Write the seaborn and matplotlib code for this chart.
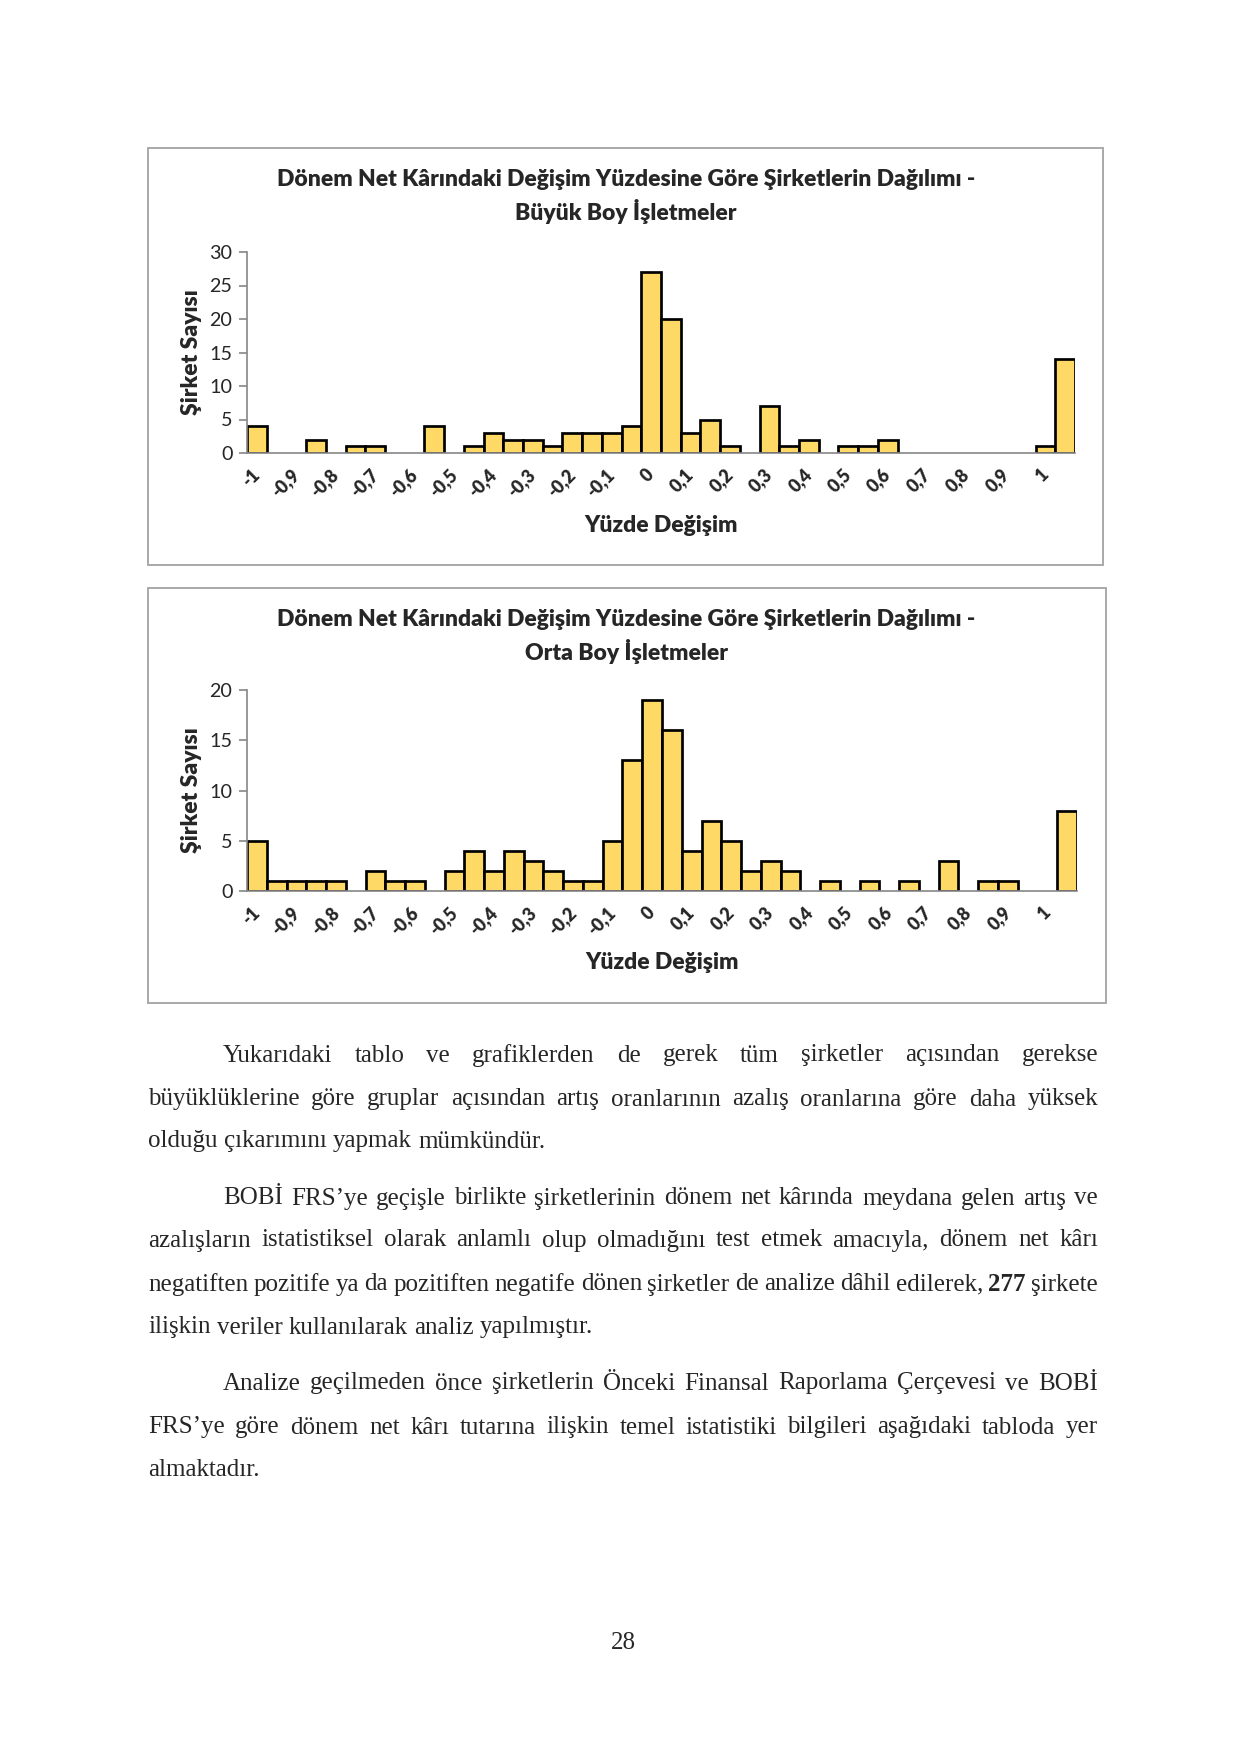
import matplotlib
matplotlib.use("Agg")
import matplotlib.pyplot as plt
import seaborn as sns
import pandas as pd
from matplotlib.patches import Rectangle

# data (42 bins, label every second bin)
tick_labels = ["-1", "-0,9", "-0,8", "-0,7", "-0,6", "-0,5", "-0,4", "-0,3", "-0,2", "-0,1",
               "0", "0,1", "0,2", "0,3", "0,4", "0,5", "0,6", "0,7", "0,8", "0,9", "1"]
buyuk_counts = [4, 0, 0, 2, 0, 1, 1, 0, 0, 4,
                0, 1, 3, 2, 2, 1, 3, 3, 3, 4,
                27, 20, 3, 5, 1, 0, 7, 1, 2, 0,
                1, 1, 2, 0, 0, 0, 0, 0, 0, 0,
                1, 14]
orta_counts = [5, 1, 1, 1, 1, 0, 2, 1, 1, 0,
               2, 4, 2, 4, 3, 2, 1, 1, 5, 13,
               19, 16, 4, 7, 5, 2, 3, 2, 0, 1,
               0, 1, 0, 1, 0, 3, 0, 1, 1, 0,
               0, 8]

title_main = "Dönem Net Kârındaki Değişim Yüzdesine Göre Şirketlerin Dağılımı -"
title_buyuk = "Büyük Boy İşletmeler"
title_orta = "Orta Boy İşletmeler"
xlab = "Yüzde Değişim"
ylab = "Şirket Sayısı"

paragraphs = [
    ["Yukarıdaki tablo ve grafiklerden de gerek tüm şirketler açısından gerekse",
     "büyüklüklerine göre gruplar açısından artış oranlarının azalış oranlarına göre daha yüksek",
     "olduğu çıkarımını yapmak mümkündür."],
    ["BOBİ FRS’ye geçişle birlikte şirketlerinin dönem net kârında meydana gelen artış ve",
     "azalışların istatistiksel olarak anlamlı olup olmadığını test etmek amacıyla, dönem net kârı",
     "negatiften pozitife ya da pozitiften negatife dönen şirketler de analize dâhil edilerek, **277** şirkete",
     "ilişkin veriler kullanılarak analiz yapılmıştır."],
    ["Analize geçilmeden önce şirketlerin Önceki Finansal Raporlama Çerçevesi ve BOBİ",
     "FRS’ye göre dönem net kârı tutarına ilişkin temel istatistiki bilgileri aşağıdaki tabloda yer",
     "almaktadır."],
]
line_y = [[1053, 1097, 1139], [1196, 1238, 1282, 1325], [1381, 1425, 1468]]

W, H = 1240, 1754
sns.set_theme(style="white")
plt.rcParams['font.family'] = ['Lato', 'DejaVu Sans']
SERIF = ['Liberation Serif', 'DejaVu Serif']

fig = plt.figure(figsize=(W / 150, H / 150), dpi=150)
fig.patch.set_facecolor("white")


def fx(px):
    return px / W


def fy(py):
    return 1 - py / H


def draw_chart(counts, subtitle, box, axbox, title_y, ymax, ystep, xlab_y):
    bx0, by0, bx1, by1 = box
    fig.patches.append(Rectangle((fx(bx0), fy(by1)), fx(bx1 - bx0), (by1 - by0) / H,
                                 transform=fig.transFigure, fill=False,
                                 edgecolor="#a6a6a6", linewidth=0.9))
    ax0, ay0, ax1, ay1 = axbox
    ax = fig.add_axes([fx(ax0), fy(ay1), fx(ax1 - ax0), (ay1 - ay0) / H])
    df = pd.DataFrame({"bin": range(len(counts)), "n": counts})
    sns.barplot(data=df, x="bin", y="n", ax=ax, color="#FFD966", saturation=1,
                edgecolor="black", linewidth=1.3, width=1.0)
    for p in ax.patches:
        if p.get_height() == 0:
            p.set_visible(False)
    ax.set_xlim(-0.5, len(counts) - 0.5)
    ax.set_ylim(0, ymax)
    ax.set_yticks(range(0, ymax + 1, ystep))
    ax.set_xticks(range(0, len(counts), 2))
    ax.set_xticklabels(tick_labels, rotation=45, ha="right", va="center",
                       rotation_mode="anchor", fontweight="heavy", fontsize=8.5)
    ax.tick_params(axis="x", length=0, pad=9)
    ax.tick_params(axis="y", length=4, color="#868686", width=0.8, labelsize=9.5,
                   pad=3, left=True, direction="out")
    ax.set_xlabel("")
    ax.set_ylabel("")
    for s in ["top", "right"]:
        ax.spines[s].set_visible(False)
    for s in ["left", "bottom"]:
        ax.spines[s].set_color("#868686")
        ax.spines[s].set_linewidth(0.8)
    ax.set_facecolor("none")
    fig.text(fx(626), fy(title_y[0]), title_main, ha="center", va="center",
             fontsize=11, fontweight="heavy")
    fig.text(fx(626), fy(title_y[1]), subtitle, ha="center", va="center",
             fontsize=11, fontweight="heavy")
    fig.text(fx(191), fy((ay0 + ay1) / 2), ylab, rotation=90, ha="center", va="center",
             fontsize=11, fontweight="heavy")
    fig.text(fx((ax0 + ax1) / 2), fy(xlab_y), xlab, ha="center", va="center",
             fontsize=11, fontweight="heavy")
    return ax


draw_chart(buyuk_counts, title_buyuk, (148, 148, 1103, 565), (247, 252, 1075, 453),
           (180, 211), 30, 5, 526)
draw_chart(orta_counts, title_orta, (148, 588, 1106, 1003), (247, 690, 1077, 891),
           (620, 651), 20, 5, 963)

# justified body text, word by word
renderer = fig.canvas.get_renderer()
LEFT, RIGHT, INDENT = 148, 1098, 223


def text_width(s, size, weight="normal"):
    t = fig.text(0, 0, s, fontsize=size, family=SERIF, fontweight=weight)
    w = t.get_window_extent(renderer).width
    t.remove()
    return w


def put_line(line, y, x0, last, size=12):
    words = [(w.replace("**", ""), "bold" if w.startswith("**") else "normal")
             for w in line.split(" ")]
    widths = [text_width(w, size, wt) for w, wt in words]
    sw = text_width("a a", size) - text_width("aa", size)
    total = sum(widths)
    if last or len(words) == 1:
        gap = sw
    else:
        gap = (RIGHT - x0 - total) / (len(words) - 1)
        if gap < sw * 0.45:
            return False
    x = x0
    for (w, wt), wd in zip(words, widths):
        fig.text(fx(x), fy(y), w, fontsize=size, family=SERIF, fontweight=wt,
                 va="center_baseline")
        x += wd + gap
    return True


for para, ys in zip(paragraphs, line_y):
    for i, (line, y) in enumerate(zip(para, ys)):
        x0 = INDENT if i == 0 else LEFT
        last = i == len(para) - 1
        size = 12
        while not put_line(line, y, x0, last, size):
            size -= 0.25

fig.text(fx(623), fy(1643), "28", fontsize=12, family=SERIF, ha="center", va="center")

fig.savefig("out.png", dpi=150, facecolor="white")
